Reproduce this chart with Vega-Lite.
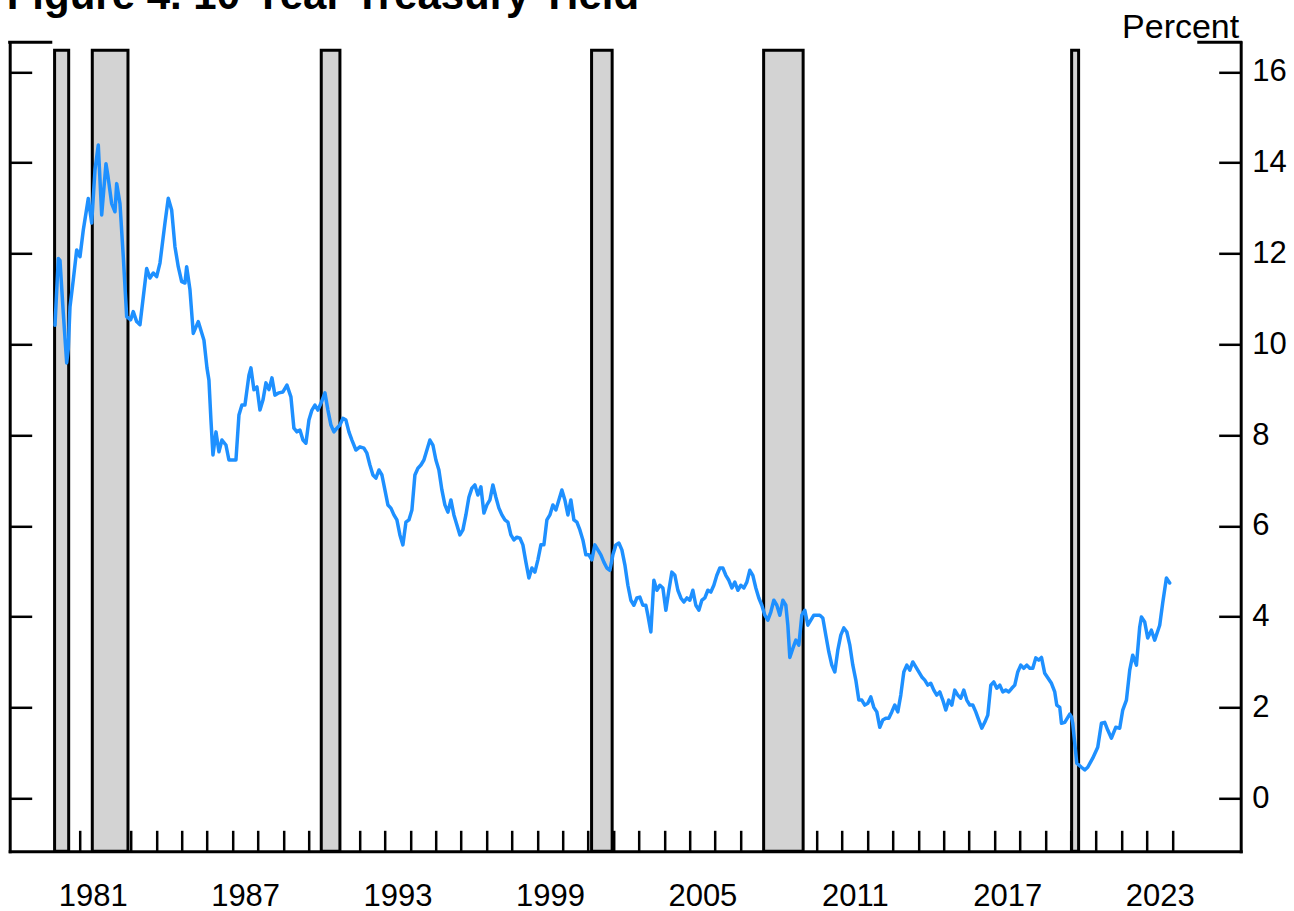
{
  "$schema": "https://vega.github.io/schema/vega-lite/v6.json",
  "width": 1231,
  "height": 809,
  "autosize": {"type": "none"},
  "padding": {"left": 9.7, "top": 42.3, "right": 53, "bottom": 59.7},
  "background": "white",
  "config": {
    "view": {"stroke": null},
    "font": "Liberation Sans",
    "axis": {"zindex": 1, "domainColor": "black", "tickColor": "black", "labelColor": "black", "grid": false, "labelFont": "Liberation Sans", "titleFont": "Liberation Sans"}
  },
  "title": {
    "text": "Figure 4. 10-Year Treasury Yield",
    "anchor": "start",
    "frame": "group",
    "font": "Liberation Sans",
    "fontSize": 42,
    "fontWeight": "bold",
    "color": "black",
    "offset": 0,
    "dx": -3,
    "dy": 8
  },
  "datasets": {
    "recessions": [
      {"start": 1980.0, "end": 1980.555},
      {"start": 1981.484, "end": 1982.889},
      {"start": 1990.497, "end": 1991.232},
      {"start": 2001.138, "end": 2001.948},
      {"start": 2007.911, "end": 2009.466},
      {"start": 2020.035, "end": 2020.31}
    ],
    "frame": [
      {"start": 1978.233, "end": 1979.85},
      {"start": 2025.04, "end": 2026.69}
    ],
    "yields": [
      {"date": 1980.016, "yield": 10.42},
      {"date": 1980.146, "yield": 11.89},
      {"date": 1980.213, "yield": 11.85},
      {"date": 1980.342, "yield": 10.69},
      {"date": 1980.476, "yield": 9.59},
      {"date": 1980.539, "yield": 9.9},
      {"date": 1980.606, "yield": 10.82},
      {"date": 1980.736, "yield": 11.42},
      {"date": 1980.870, "yield": 12.08},
      {"date": 1981.000, "yield": 11.93},
      {"date": 1981.130, "yield": 12.52},
      {"date": 1981.326, "yield": 13.21},
      {"date": 1981.460, "yield": 12.67},
      {"date": 1981.590, "yield": 13.84},
      {"date": 1981.720, "yield": 14.39},
      {"date": 1981.854, "yield": 12.85},
      {"date": 1982.023, "yield": 13.98},
      {"date": 1982.102, "yield": 13.7},
      {"date": 1982.247, "yield": 13.1},
      {"date": 1982.377, "yield": 12.92},
      {"date": 1982.444, "yield": 13.54},
      {"date": 1982.574, "yield": 13.1},
      {"date": 1982.704, "yield": 11.93},
      {"date": 1982.838, "yield": 10.61},
      {"date": 1982.995, "yield": 10.54},
      {"date": 1983.097, "yield": 10.72},
      {"date": 1983.231, "yield": 10.5},
      {"date": 1983.361, "yield": 10.43},
      {"date": 1983.625, "yield": 11.67},
      {"date": 1983.754, "yield": 11.46},
      {"date": 1983.884, "yield": 11.57},
      {"date": 1984.018, "yield": 11.49},
      {"date": 1984.148, "yield": 11.79},
      {"date": 1984.344, "yield": 12.67},
      {"date": 1984.475, "yield": 13.22},
      {"date": 1984.608, "yield": 12.96},
      {"date": 1984.738, "yield": 12.15},
      {"date": 1984.868, "yield": 11.71},
      {"date": 1985.002, "yield": 11.38},
      {"date": 1985.132, "yield": 11.35},
      {"date": 1985.199, "yield": 11.71},
      {"date": 1985.329, "yield": 11.2},
      {"date": 1985.459, "yield": 10.24},
      {"date": 1985.655, "yield": 10.5},
      {"date": 1985.880, "yield": 10.09},
      {"date": 1985.998, "yield": 9.48},
      {"date": 1986.076, "yield": 9.21},
      {"date": 1986.155, "yield": 8.33},
      {"date": 1986.234, "yield": 7.56},
      {"date": 1986.352, "yield": 8.07},
      {"date": 1986.470, "yield": 7.63},
      {"date": 1986.588, "yield": 7.89},
      {"date": 1986.745, "yield": 7.78},
      {"date": 1986.863, "yield": 7.45},
      {"date": 1987.021, "yield": 7.45},
      {"date": 1987.139, "yield": 7.45},
      {"date": 1987.257, "yield": 8.44},
      {"date": 1987.375, "yield": 8.66},
      {"date": 1987.493, "yield": 8.66},
      {"date": 1987.651, "yield": 9.32},
      {"date": 1987.729, "yield": 9.48},
      {"date": 1987.847, "yield": 9.0},
      {"date": 1987.966, "yield": 9.06},
      {"date": 1988.084, "yield": 8.55},
      {"date": 1988.202, "yield": 8.77},
      {"date": 1988.320, "yield": 9.15},
      {"date": 1988.438, "yield": 9.0},
      {"date": 1988.556, "yield": 9.26},
      {"date": 1988.674, "yield": 8.88},
      {"date": 1988.831, "yield": 8.93},
      {"date": 1988.989, "yield": 8.95},
      {"date": 1989.146, "yield": 9.1},
      {"date": 1989.303, "yield": 8.84},
      {"date": 1989.421, "yield": 8.15},
      {"date": 1989.540, "yield": 8.07},
      {"date": 1989.658, "yield": 8.11},
      {"date": 1989.776, "yield": 7.89},
      {"date": 1989.894, "yield": 7.82},
      {"date": 1990.012, "yield": 8.33},
      {"date": 1990.130, "yield": 8.55},
      {"date": 1990.248, "yield": 8.66},
      {"date": 1990.366, "yield": 8.55},
      {"date": 1990.484, "yield": 8.7},
      {"date": 1990.642, "yield": 8.93},
      {"date": 1990.760, "yield": 8.55},
      {"date": 1990.878, "yield": 8.22},
      {"date": 1990.996, "yield": 8.07},
      {"date": 1991.114, "yield": 8.15},
      {"date": 1991.232, "yield": 8.22},
      {"date": 1991.350, "yield": 8.37},
      {"date": 1991.468, "yield": 8.33},
      {"date": 1991.586, "yield": 8.07},
      {"date": 1991.704, "yield": 7.89},
      {"date": 1991.861, "yield": 7.67},
      {"date": 1992.019, "yield": 7.74},
      {"date": 1992.176, "yield": 7.71},
      {"date": 1992.294, "yield": 7.6},
      {"date": 1992.413, "yield": 7.34},
      {"date": 1992.531, "yield": 7.12},
      {"date": 1992.649, "yield": 7.05},
      {"date": 1992.767, "yield": 7.23},
      {"date": 1992.885, "yield": 7.12},
      {"date": 1993.003, "yield": 6.79},
      {"date": 1993.121, "yield": 6.46},
      {"date": 1993.239, "yield": 6.39},
      {"date": 1993.357, "yield": 6.24},
      {"date": 1993.475, "yield": 6.13},
      {"date": 1993.593, "yield": 5.8},
      {"date": 1993.711, "yield": 5.58},
      {"date": 1993.830, "yield": 6.08},
      {"date": 1993.948, "yield": 6.13},
      {"date": 1994.066, "yield": 6.35},
      {"date": 1994.184, "yield": 7.12},
      {"date": 1994.302, "yield": 7.27},
      {"date": 1994.420, "yield": 7.34},
      {"date": 1994.538, "yield": 7.45},
      {"date": 1994.656, "yield": 7.67},
      {"date": 1994.774, "yield": 7.89},
      {"date": 1994.892, "yield": 7.78},
      {"date": 1995.010, "yield": 7.45},
      {"date": 1995.128, "yield": 7.23},
      {"date": 1995.246, "yield": 6.79},
      {"date": 1995.364, "yield": 6.46},
      {"date": 1995.483, "yield": 6.3},
      {"date": 1995.601, "yield": 6.57},
      {"date": 1995.719, "yield": 6.24},
      {"date": 1995.837, "yield": 6.02},
      {"date": 1995.955, "yield": 5.8},
      {"date": 1996.073, "yield": 5.91},
      {"date": 1996.191, "yield": 6.24},
      {"date": 1996.309, "yield": 6.63},
      {"date": 1996.427, "yield": 6.83},
      {"date": 1996.545, "yield": 6.9},
      {"date": 1996.663, "yield": 6.68},
      {"date": 1996.781, "yield": 6.86},
      {"date": 1996.900, "yield": 6.28},
      {"date": 1997.018, "yield": 6.46},
      {"date": 1997.136, "yield": 6.57},
      {"date": 1997.254, "yield": 6.9},
      {"date": 1997.372, "yield": 6.63},
      {"date": 1997.490, "yield": 6.39},
      {"date": 1997.608, "yield": 6.24},
      {"date": 1997.726, "yield": 6.13},
      {"date": 1997.844, "yield": 6.08},
      {"date": 1997.962, "yield": 5.8},
      {"date": 1998.080, "yield": 5.69},
      {"date": 1998.198, "yield": 5.75},
      {"date": 1998.316, "yield": 5.73},
      {"date": 1998.434, "yield": 5.58},
      {"date": 1998.553, "yield": 5.2},
      {"date": 1998.671, "yield": 4.85},
      {"date": 1998.789, "yield": 5.07},
      {"date": 1998.907, "yield": 4.98},
      {"date": 1999.025, "yield": 5.25},
      {"date": 1999.143, "yield": 5.58},
      {"date": 1999.261, "yield": 5.58},
      {"date": 1999.379, "yield": 6.13},
      {"date": 1999.497, "yield": 6.24},
      {"date": 1999.615, "yield": 6.46},
      {"date": 1999.733, "yield": 6.35},
      {"date": 1999.851, "yield": 6.57},
      {"date": 1999.969, "yield": 6.79},
      {"date": 2000.087, "yield": 6.57},
      {"date": 2000.206, "yield": 6.24},
      {"date": 2000.324, "yield": 6.57},
      {"date": 2000.442, "yield": 6.13},
      {"date": 2000.560, "yield": 6.08},
      {"date": 2000.678, "yield": 5.91},
      {"date": 2000.796, "yield": 5.69},
      {"date": 2000.914, "yield": 5.36},
      {"date": 2001.032, "yield": 5.36},
      {"date": 2001.150, "yield": 5.25},
      {"date": 2001.268, "yield": 5.58},
      {"date": 2001.386, "yield": 5.47},
      {"date": 2001.504, "yield": 5.36},
      {"date": 2001.622, "yield": 5.2},
      {"date": 2001.740, "yield": 5.07},
      {"date": 2001.859, "yield": 5.02},
      {"date": 2001.977, "yield": 5.36},
      {"date": 2002.095, "yield": 5.58},
      {"date": 2002.213, "yield": 5.62},
      {"date": 2002.331, "yield": 5.47},
      {"date": 2002.449, "yield": 5.14},
      {"date": 2002.567, "yield": 4.69},
      {"date": 2002.685, "yield": 4.36},
      {"date": 2002.803, "yield": 4.25},
      {"date": 2002.921, "yield": 4.41},
      {"date": 2003.039, "yield": 4.43},
      {"date": 2003.157, "yield": 4.25},
      {"date": 2003.275, "yield": 4.25},
      {"date": 2003.354, "yield": 4.03},
      {"date": 2003.472, "yield": 3.66},
      {"date": 2003.590, "yield": 4.8},
      {"date": 2003.709, "yield": 4.58},
      {"date": 2003.827, "yield": 4.69},
      {"date": 2003.945, "yield": 4.63},
      {"date": 2004.063, "yield": 4.14},
      {"date": 2004.181, "yield": 4.58},
      {"date": 2004.299, "yield": 4.98},
      {"date": 2004.417, "yield": 4.91},
      {"date": 2004.535, "yield": 4.58},
      {"date": 2004.653, "yield": 4.41},
      {"date": 2004.771, "yield": 4.32},
      {"date": 2004.889, "yield": 4.41},
      {"date": 2005.007, "yield": 4.36},
      {"date": 2005.125, "yield": 4.58},
      {"date": 2005.243, "yield": 4.25},
      {"date": 2005.361, "yield": 4.14},
      {"date": 2005.479, "yield": 4.36},
      {"date": 2005.597, "yield": 4.41},
      {"date": 2005.715, "yield": 4.58},
      {"date": 2005.833, "yield": 4.54},
      {"date": 2005.951, "yield": 4.69},
      {"date": 2006.069, "yield": 4.91},
      {"date": 2006.187, "yield": 5.07},
      {"date": 2006.305, "yield": 5.07},
      {"date": 2006.423, "yield": 4.91},
      {"date": 2006.541, "yield": 4.8},
      {"date": 2006.660, "yield": 4.63},
      {"date": 2006.778, "yield": 4.76},
      {"date": 2006.896, "yield": 4.58},
      {"date": 2007.014, "yield": 4.69},
      {"date": 2007.132, "yield": 4.63},
      {"date": 2007.250, "yield": 4.76},
      {"date": 2007.368, "yield": 5.02},
      {"date": 2007.486, "yield": 4.91},
      {"date": 2007.604, "yield": 4.63},
      {"date": 2007.722, "yield": 4.41},
      {"date": 2007.840, "yield": 4.25},
      {"date": 2007.958, "yield": 4.03},
      {"date": 2008.076, "yield": 3.92},
      {"date": 2008.194, "yield": 4.1},
      {"date": 2008.313, "yield": 4.36},
      {"date": 2008.431, "yield": 4.25},
      {"date": 2008.549, "yield": 4.03},
      {"date": 2008.667, "yield": 4.36},
      {"date": 2008.785, "yield": 4.25},
      {"date": 2008.864, "yield": 3.81},
      {"date": 2008.942, "yield": 3.1},
      {"date": 2009.061, "yield": 3.3},
      {"date": 2009.179, "yield": 3.48},
      {"date": 2009.297, "yield": 3.37},
      {"date": 2009.415, "yield": 4.03},
      {"date": 2009.533, "yield": 4.14},
      {"date": 2009.651, "yield": 3.81},
      {"date": 2009.769, "yield": 3.92},
      {"date": 2009.887, "yield": 4.03},
      {"date": 2010.005, "yield": 4.03},
      {"date": 2010.123, "yield": 4.03},
      {"date": 2010.241, "yield": 3.97},
      {"date": 2010.359, "yield": 3.59},
      {"date": 2010.477, "yield": 3.22},
      {"date": 2010.595, "yield": 2.93},
      {"date": 2010.713, "yield": 2.78},
      {"date": 2010.831, "yield": 3.26},
      {"date": 2010.949, "yield": 3.59},
      {"date": 2011.068, "yield": 3.75},
      {"date": 2011.186, "yield": 3.66},
      {"date": 2011.304, "yield": 3.37},
      {"date": 2011.422, "yield": 2.93},
      {"date": 2011.540, "yield": 2.6},
      {"date": 2011.658, "yield": 2.16},
      {"date": 2011.776, "yield": 2.16},
      {"date": 2011.894, "yield": 2.05},
      {"date": 2012.012, "yield": 2.09},
      {"date": 2012.130, "yield": 2.23},
      {"date": 2012.248, "yield": 2.0},
      {"date": 2012.366, "yield": 1.9},
      {"date": 2012.484, "yield": 1.56},
      {"date": 2012.602, "yield": 1.72},
      {"date": 2012.720, "yield": 1.76},
      {"date": 2012.838, "yield": 1.76},
      {"date": 2012.956, "yield": 1.9},
      {"date": 2013.074, "yield": 2.05},
      {"date": 2013.192, "yield": 1.9},
      {"date": 2013.310, "yield": 2.27},
      {"date": 2013.429, "yield": 2.78},
      {"date": 2013.547, "yield": 2.93},
      {"date": 2013.665, "yield": 2.82},
      {"date": 2013.783, "yield": 3.0},
      {"date": 2013.901, "yield": 2.89},
      {"date": 2014.019, "yield": 2.78},
      {"date": 2014.137, "yield": 2.67},
      {"date": 2014.255, "yield": 2.6},
      {"date": 2014.373, "yield": 2.49},
      {"date": 2014.491, "yield": 2.53},
      {"date": 2014.609, "yield": 2.38},
      {"date": 2014.727, "yield": 2.27},
      {"date": 2014.845, "yield": 2.34},
      {"date": 2014.963, "yield": 2.16},
      {"date": 2015.082, "yield": 1.94},
      {"date": 2015.200, "yield": 2.16},
      {"date": 2015.318, "yield": 2.05},
      {"date": 2015.436, "yield": 2.38},
      {"date": 2015.554, "yield": 2.27},
      {"date": 2015.672, "yield": 2.2},
      {"date": 2015.790, "yield": 2.38},
      {"date": 2015.908, "yield": 2.16},
      {"date": 2016.026, "yield": 2.05},
      {"date": 2016.144, "yield": 2.05},
      {"date": 2016.262, "yield": 1.9},
      {"date": 2016.380, "yield": 1.72},
      {"date": 2016.498, "yield": 1.54},
      {"date": 2016.616, "yield": 1.67},
      {"date": 2016.735, "yield": 1.83},
      {"date": 2016.853, "yield": 2.49},
      {"date": 2016.971, "yield": 2.56},
      {"date": 2017.089, "yield": 2.42},
      {"date": 2017.207, "yield": 2.49},
      {"date": 2017.325, "yield": 2.34},
      {"date": 2017.443, "yield": 2.38},
      {"date": 2017.561, "yield": 2.34},
      {"date": 2017.679, "yield": 2.42},
      {"date": 2017.797, "yield": 2.49},
      {"date": 2017.915, "yield": 2.78},
      {"date": 2018.033, "yield": 2.93},
      {"date": 2018.151, "yield": 2.86},
      {"date": 2018.269, "yield": 2.93},
      {"date": 2018.388, "yield": 2.86},
      {"date": 2018.506, "yield": 2.86},
      {"date": 2018.624, "yield": 3.09},
      {"date": 2018.742, "yield": 3.04},
      {"date": 2018.848, "yield": 3.1},
      {"date": 2018.977, "yield": 2.75},
      {"date": 2019.241, "yield": 2.53},
      {"date": 2019.371, "yield": 2.34},
      {"date": 2019.450, "yield": 2.05},
      {"date": 2019.568, "yield": 2.0},
      {"date": 2019.635, "yield": 1.65},
      {"date": 2019.764, "yield": 1.67},
      {"date": 2019.961, "yield": 1.85},
      {"date": 2020.028, "yield": 1.79},
      {"date": 2020.079, "yield": 1.65},
      {"date": 2020.158, "yield": 1.21},
      {"date": 2020.237, "yield": 0.77},
      {"date": 2020.421, "yield": 0.68},
      {"date": 2020.551, "yield": 0.62},
      {"date": 2020.669, "yield": 0.68},
      {"date": 2020.866, "yield": 0.88},
      {"date": 2021.063, "yield": 1.12},
      {"date": 2021.208, "yield": 1.65},
      {"date": 2021.338, "yield": 1.67},
      {"date": 2021.456, "yield": 1.5},
      {"date": 2021.602, "yield": 1.32},
      {"date": 2021.771, "yield": 1.56},
      {"date": 2021.928, "yield": 1.54},
      {"date": 2022.047, "yield": 1.94},
      {"date": 2022.192, "yield": 2.16},
      {"date": 2022.322, "yield": 2.82},
      {"date": 2022.440, "yield": 3.15},
      {"date": 2022.586, "yield": 2.93},
      {"date": 2022.715, "yield": 3.77},
      {"date": 2022.782, "yield": 3.99},
      {"date": 2022.912, "yield": 3.88},
      {"date": 2023.030, "yield": 3.53},
      {"date": 2023.175, "yield": 3.7},
      {"date": 2023.305, "yield": 3.48},
      {"date": 2023.502, "yield": 3.81},
      {"date": 2023.620, "yield": 4.3},
      {"date": 2023.766, "yield": 4.85},
      {"date": 2023.896, "yield": 4.74}
    ]
  },
  "layer": [
    {
      "data": {"name": "recessions"},
      "mark": {"type": "rect", "fill": "#d3d3d3", "stroke": "black", "strokeWidth": 3},
      "encoding": {
        "x": {
          "field": "start", "type": "quantitative",
          "scale": {"domain": [1978.233, 2026.69], "nice": false, "zero": false},
          "axis": {
            "orient": "bottom", "title": null, "labels": false, "ticks": true,
            "values": [1980,1981,1982,1983,1984,1985,1986,1987,1988,1989,1990,1991,1992,1993,1994,1995,1996,1997,1998,1999,2000,2001,2002,2003,2004,2005,2006,2007,2008,2009,2010,2011,2012,2013,2014,2015,2016,2017,2018,2019,2020,2021,2022,2023,2024],
            "tickSize": -21, "tickWidth": 2.5, "domain": true, "domainWidth": 3, "domainCap": "square"
          }
        },
        "x2": {"field": "end"},
        "y": {
          "datum": -1.172, "type": "quantitative",
          "scale": {"domain": [-1.172, 16.654], "nice": false, "zero": false},
          "axis": {
            "orient": "left", "title": null, "labels": false,
            "values": [0,2,4,6,8,10,12,14,16],
            "tickSize": -22, "tickWidth": 2.5, "domain": true, "domainWidth": 3, "domainCap": "square"
          }
        },
        "y2": {"datum": 16.48}
      }
    },
    {
      "data": {"name": "yields"},
      "mark": {"type": "line", "color": "#1E90FF", "strokeWidth": 3.5, "strokeJoin": "round", "strokeCap": "round"},
      "encoding": {
        "x": {
          "field": "date", "type": "quantitative",
          "scale": {"domain": [1978.233, 2026.69], "nice": false, "zero": false},
          "axis": {
            "orient": "bottom", "title": null, "ticks": false, "tickSize": 0, "domain": false,
            "values": [1981.5,1987.5,1993.5,1999.5,2005.5,2011.5,2017.5,2023.5],
            "labelExpr": "floor(datum.value)",
            "labelFontSize": 31, "labelPadding": 54, "labelBaseline": "alphabetic",
            "labelFlush": false, "labelOverlap": false
          }
        },
        "y": {
          "field": "yield", "type": "quantitative",
          "scale": {"domain": [-1.172, 16.654], "nice": false, "zero": false},
          "axis": {
            "orient": "right", "title": null, "labels": false,
            "values": [0,2,4,6,8,10,12,14,16],
            "tickSize": -22, "tickWidth": 2.5, "domain": true, "domainWidth": 3, "domainCap": "square"
          }
        }
      }
    },
    {
      "data": {"name": "frame"},
      "mark": {"type": "rule", "color": "black", "strokeWidth": 3, "strokeCap": "square"},
      "encoding": {
        "x": {
          "field": "start", "type": "quantitative",
          "scale": {"domain": [1978.233, 2026.69], "nice": false, "zero": false},
          "axis": null
        },
        "x2": {"field": "end"},
        "y": {
          "datum": 16.654, "type": "quantitative",
          "scale": {"domain": [-1.172, 16.654], "nice": false, "zero": false},
          "axis": {
            "orient": "right", "ticks": false, "tickSize": 0, "domain": false,
            "values": [0,2,4,6,8,10,12,14,16], "format": "d",
            "labelFontSize": 31, "labelPadding": 11, "labelBaseline": "middle",
            "labelFlush": false, "labelOverlap": false,
            "title": "Percent", "titleAngle": 0, "titleX": -2, "titleY": -5,
            "titleAlign": "right", "titleBaseline": "alphabetic",
            "titleFontSize": 34, "titleFontWeight": "normal", "titleColor": "black"
          }
        }
      }
    }
  ],
  "resolve": {"axis": {"x": "independent", "y": "independent"}}
}
